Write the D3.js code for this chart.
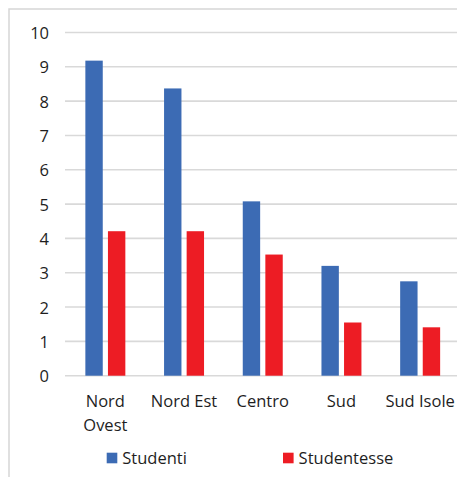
<!DOCTYPE html>
<html>
<head>
<meta charset="utf-8">
<script src="https://cdn.jsdelivr.net/npm/d3@7"></script>
<style>
html,body{margin:0;padding:0;background:#fff;}
svg{display:block;font-family:"Open Sans",sans-serif;}
</style>
</head>
<body>
<svg id="chart" width="457" height="477"></svg>
<script>
const categories = ["Nord Ovest", "Nord Est", "Centro", "Sud", "Sud Isole"];
const seriesNames = ["Studenti", "Studentesse"];
const studenti = [9.18, 8.37, 5.08, 3.20, 2.75];
const studentesse = [4.21, 4.21, 3.53, 1.55, 1.41];
const yTicks = [0, 1, 2, 3, 4, 5, 6, 7, 8, 9, 10];
const colors = ["#3c6bb4", "#ed1c24"];

const svg = d3.select("#chart");
const W = 457, H = 477;
const FS = 16.5;
svg.append("rect").attr("width", W).attr("height", H).attr("fill", "#fff");

// chart area border (left and top visible)
svg.append("path")
  .attr("d", "M9,477 L9,9 L457,9")
  .attr("fill", "none").attr("stroke", "#d6d6d6").attr("stroke-width", 1.5);

const x = d3.scaleBand().domain(categories).range([66, 459.5]).paddingInner(0.492).paddingOuter(0.246);
const xs = d3.scaleBand().domain(seriesNames).range([0, x.bandwidth()]).paddingInner(0.23);
const y = d3.scaleLinear().domain([0, 10]).range([375.7, 32.5]);

// gridlines
const yAxis = d3.axisLeft(y).tickValues(yTicks).tickSize(0).tickPadding(0);
const gy = svg.append("g").attr("transform", "translate(65,0)");
gy.selectAll("line.grid").data(yTicks).enter().append("line")
  .attr("x1", 0).attr("x2", 457 - 65)
  .attr("y1", d => y(d)).attr("y2", d => y(d))
  .attr("stroke", "#d9d9d9").attr("stroke-width", 1.6);

const gAxis = svg.append("g").attr("transform", "translate(49,0)").call(yAxis);
gAxis.select(".domain").remove();
gAxis.selectAll("text")
  .attr("font-family", "'Open Sans', sans-serif")
  .attr("font-size", FS).attr("fill", "#1e1e1e").attr("dy", "0.36em");

// bars
const data = categories.map((c, i) => ({cat: c, vals: [studenti[i], studentesse[i]]}));
const groups = svg.append("g").selectAll("g").data(data).enter().append("g")
  .attr("transform", d => `translate(${x(d.cat)},0)`);
groups.selectAll("rect").data(d => d.vals.map((v, j) => ({s: seriesNames[j], v, j}))).enter()
  .append("rect")
  .attr("x", d => xs(d.s))
  .attr("width", xs.bandwidth())
  .attr("y", d => y(d.v))
  .attr("height", d => y(0) - y(d.v))
  .attr("fill", d => colors[d.j]);

// x labels
const xl = svg.append("g");
categories.forEach(c => {
  const words = c === "Nord Ovest" ? ["Nord", "Ovest"] : [c];
  const t = xl.append("text")
    .attr("x", x(c) + x.bandwidth() / 2)
    .attr("y", 407.3)
    .attr("text-anchor", "middle")
    .attr("font-size", FS).attr("fill", "#1e1e1e");
  words.forEach((w, k) => {
    t.append("tspan").attr("x", x(c) + x.bandwidth() / 2).attr("dy", k === 0 ? 0 : 23.4).text(w);
  });
});

// legend
const legendX = [106.7, 283];
const lg = svg.append("g");
seriesNames.forEach((s, i) => {
  lg.append("rect").attr("x", legendX[i]).attr("y", 452.7).attr("width", 10.6).attr("height", 10.6).attr("fill", colors[i]);
  lg.append("text").attr("x", legendX[i] + 15.6).attr("y", 463.5)
    .attr("font-size", FS).attr("fill", "#1e1e1e").text(s);
});
</script>
</body>
</html>
